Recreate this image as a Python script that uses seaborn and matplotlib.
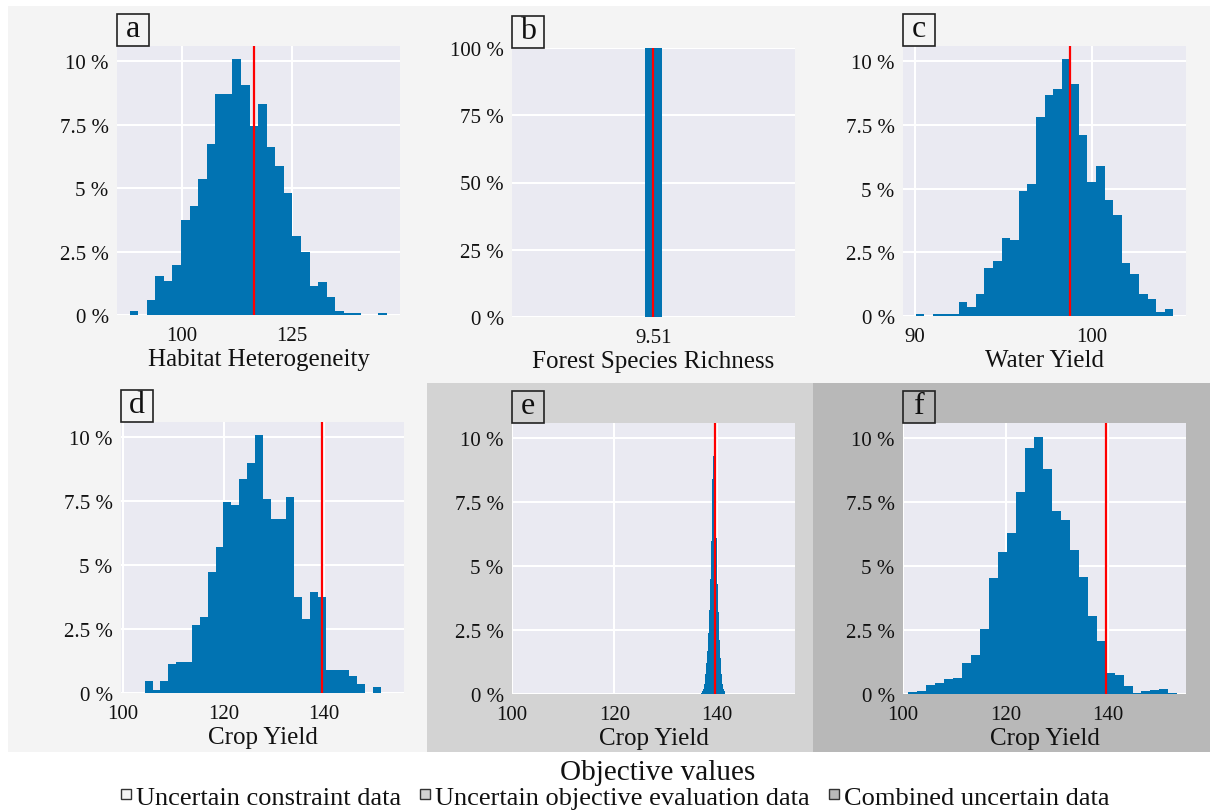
import numpy as np
import pandas as pd
import matplotlib
matplotlib.use("Agg")
import matplotlib.pyplot as plt
from matplotlib.patches import Rectangle
from matplotlib.lines import Line2D
from matplotlib.ticker import FuncFormatter
import seaborn as sns

# ---------------- data ----------------
panel_letters = ["a", "b", "c", "d", "e", "f"]
x_labels = ["Habitat Heterogeneity", "Forest Species Richness", "Water Yield",
            "Crop Yield", "Crop Yield", "Crop Yield"]

# histogram bins: start, width, heights in %
a_start, a_width = 88.09, 1.95
a_heights = [0.17, 0.0, 0.59, 1.55, 1.34, 1.97, 3.76, 4.29, 5.35, 6.72,
             8.72, 8.72, 10.1, 9.06, 7.46, 8.31, 6.63, 5.87, 4.82, 3.12,
             2.49, 1.13, 1.32, 0.69, 0.17, 0.07, 0.07, 0.0, 0.0, 0.09]

b_start, b_width = 9.505, 0.01
b_heights = [100.0]

c_start, c_width = 90.06, 0.484
c_heights = [0.07, 0.0, 0.07, 0.07, 0.07, 0.55, 0.37, 0.85, 1.89, 2.16,
             3.07, 2.99, 4.89, 5.18, 7.81, 8.69, 8.9, 10.09, 9.1, 7.09,
             5.28, 5.88, 4.57, 3.98, 2.07, 1.66, 0.86, 0.68, 0.16, 0.26]

d_start, d_width = 104.3, 1.567
d_heights = [0.46, 0.13, 0.46, 1.13, 1.21, 1.21, 2.67, 2.97, 4.75, 5.7,
             7.46, 7.37, 8.36, 9.0, 10.09, 7.59, 6.81, 6.81, 7.68, 3.75,
             2.89, 3.97, 3.75, 0.89, 0.89, 0.89, 0.65, 0.35, 0.0, 0.23]

e_start, e_width = 136.9, 0.2
e_heights = [0.05, 0.1, 0.2, 0.4, 0.8, 1.2, 1.7, 2.4, 3.3, 4.5,
             6.0, 8.4, 9.3, 8.6, 7.6, 6.1, 4.3, 3.2, 2.1, 1.4,
             0.8, 0.4, 0.2, 0.1]

f_start, f_width = 101.04, 1.749
f_heights = [0.06, 0.13, 0.36, 0.42, 0.57, 0.62, 1.23, 1.53, 2.53, 4.55,
             5.56, 6.29, 7.91, 9.62, 10.06, 8.81, 7.17, 6.79, 5.65, 4.57,
             3.04, 2.08, 0.84, 0.75, 0.32, 0.03, 0.10, 0.17, 0.19, 0.05]

reference_values = [116.5, 9.51, 98.78, 139.6, 139.6, 139.6]

x_ticks = [[100, 125], [9.51], [90, 100], [100, 120, 140], [100, 120, 140], [100, 120, 140]]
x_ticklabels = [["100", "125"], ["9.51"], ["90", "100"],
                ["100", "120", "140"], ["100", "120", "140"], ["100", "120", "140"]]
y_ticks = [[0, 2.5, 5, 7.5, 10], [0, 25, 50, 75, 100], [0, 2.5, 5, 7.5, 10],
           [0, 2.5, 5, 7.5, 10], [0, 2.5, 5, 7.5, 10], [0, 2.5, 5, 7.5, 10]]

legend_title = "Objective values"
legend_labels = ["Uncertain constraint data", "Uncertain objective evaluation data",
                 "Combined uncertain data"]

# ---------------- style ----------------
sns.set_theme(style="darkgrid")
plt.rcParams["font.family"] = ["Liberation Serif", "DejaVu Serif"]

BAR = "#0173b2"
RED = "#ff0000"
BG = ["#f4f4f4", "#d3d3d3", "#b8b8b8"]
TXT = "#111111"

W, H = 1210, 812
fig = plt.figure(figsize=(W / 100, H / 100), dpi=100)
fig.patch.set_facecolor("white")

def px_rect(x0, y0, x1, y1):
    return [x0 / W, 1 - y1 / H, (x1 - x0) / W, (y1 - y0) / H]

# background regions
for (x0, y0, x1, y1), col in [((8, 7, 1210, 753), BG[0]),
                              ((427, 384, 813, 753), BG[1]),
                              ((813, 384, 1210, 753), BG[2])]:
    l, b, w, h = px_rect(x0, y0, x1, y1)
    fig.patches.append(Rectangle((l, b), w, h, transform=fig.transFigure,
                                 facecolor=col, edgecolor="none", zorder=-10))

axes_px = [(117, 47, 400, 316), (512, 49, 795, 318), (903, 47, 1186, 317),
           (121, 423, 404, 694), (512, 424, 795, 695), (903, 424, 1186, 695)]
xlims = [(85.23, 149.6), (9.425, 9.595), (89.35, 105.29),
         (99.6, 155.9), (100.0, 155.3), (100.0, 155.2)]
ylims = [(0, 10.6), (0, 100), (0, 10.6), (0, 10.6), (0, 10.6), (0, 10.6)]

series = [(a_start, a_width, a_heights), (b_start, b_width, b_heights),
          (c_start, c_width, c_heights), (d_start, d_width, d_heights),
          (e_start, e_width, e_heights), (f_start, f_width, f_heights)]

pct = FuncFormatter(lambda v, p: f"{v:g} %")

for i, (start, width, heights) in enumerate(series):
    ax = fig.add_axes(px_rect(*axes_px[i]))
    ax.set_facecolor("#eaeaf2")
    n = len(heights)
    edges = start + width * np.arange(n + 1)
    df = pd.DataFrame({"value": (edges[:-1] + edges[1:]) / 2,
                       "share": np.asarray(heights, dtype=float)})
    sns.histplot(data=df, x="value", weights="share", bins=list(edges), ax=ax,
                 color=BAR, alpha=1, linewidth=0, edgecolor=BAR, stat="count")
    ax.axvline(reference_values[i], color=RED, lw=1.6, zorder=5)
    ax.set_xlim(*xlims[i])
    ax.set_ylim(*ylims[i])
    ax.set_xticks(x_ticks[i])
    ax.set_xticklabels(x_ticklabels[i])
    ax.set_yticks(y_ticks[i])
    ax.yaxis.set_major_formatter(pct)
    ax.set_ylabel("")
    ax.set_xlabel(x_labels[i], fontsize=18, labelpad=2, color=TXT)
    ax.tick_params(axis="both", labelsize=15, length=0, colors=TXT)
    ax.tick_params(axis="x", pad=8)
    ax.tick_params(axis="y", pad=6)
    ax.grid(True, color="white", lw=1.5)
    if i == 1:
        ax.grid(False, axis="x")
    for s in ax.spines.values():
        s.set_visible(False)

    # panel letter box
    x0, y0 = axes_px[i][0], axes_px[i][1]
    l, b, w, h = px_rect(x0, y0 - 32, x0 + 32, y0)
    fig.patches.append(Rectangle((l, b), w, h, transform=fig.transFigure,
                                 facecolor="none", edgecolor="#222222", lw=1.2, zorder=10))
    fig.text(l + w / 2, b + h / 2 + 1.5 / H, panel_letters[i], ha="center", va="center",
             fontsize=23, color=TXT)

# legend title and entries
fig.text(658 / W, 1 - 780 / H, legend_title, ha="center", va="baseline",
         fontsize=21, color=TXT)
handles = [Line2D([], [], linestyle="", marker="s", markersize=7.5,
                  markerfacecolor=c, markeredgecolor="#333333", markeredgewidth=1.0)
           for c in BG]
leg = fig.legend(handles, legend_labels, loc="lower center", bbox_to_anchor=(0.508, 0.003),
                 ncol=3, frameon=False, fontsize=19,
                 handlelength=0.45, handletextpad=0.15, columnspacing=0.7,
                 borderaxespad=0, borderpad=0.0, labelspacing=0.0)
for t in leg.get_texts():
    t.set_color(TXT)

fig.savefig("out.png", dpi=100, facecolor="white")
